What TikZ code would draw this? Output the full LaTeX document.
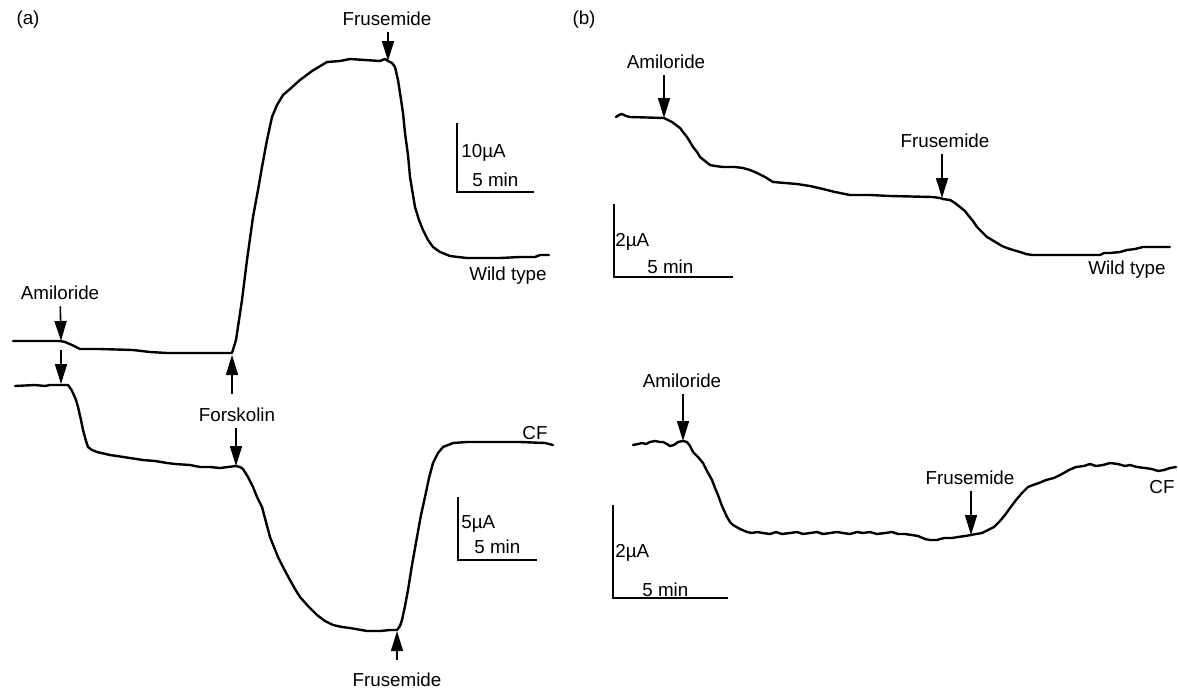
\documentclass[tikz,border=0pt]{standalone}
\usepackage{fontspec}
\setsansfont{Liberation Sans}
\usetikzlibrary{arrows.meta}

\begin{document}
\begin{tikzpicture}[x=0.5pt, y=-0.5pt, font=\sffamily\fontsize{9.4}{11}\selectfont,
		trace/.style={line width=1.2pt, line join=round, line cap=round},
		arr/.style={line width=0.8pt, -{Triangle[length=10pt, width=6pt]}},
		bar/.style={line width=0.65pt},
		lbl/.style={inner sep=3pt}]
	% 0. Khung ngoai (giu ti le hinh)
	\useasboundingbox (0,0) rectangle (1178,691);
	
	% 1. Nhan cua hai phan
	\node[lbl] (tagA) at (28,20) {(a)};
	\node[lbl] (tagB) at (584,20) {(b)};
	
	% 2. Phan (a): duong Wild type
	\draw[trace] plot coordinates {(13,341) (60,341) (65,342) (72,345) (80,349) (100,349) (133,350) (150,352) (167,353) (232,353) (236,340) (239,320) (242,300) (247,260) (253,217) (258,190) (262,167) (267,140) (272,117) (277,105) (283,95) (290,89) (300,80) (312,71) (327,62) (340,61) (350,59) (365,60) (380,61) (385,59) (388,61) (392,63) (395,67) (398,80) (400,93) (403,113) (405,133) (408,155) (410,177) (413,195) (415,207) (419,220) (423,230) (428,240) (433,247) (440,252) (450,256) (458,257) (467,258) (500,258) (520,257) (535,257) (540,255) (549,255)};
	\coordinate (wtAmiA) at (61,341);
	\coordinate (wtFskA) at (232,355);
	\coordinate (wtFruA) at (388,61);
	
	% 3. Phan (a): duong CF
	\draw[trace] plot coordinates {(15,386) (35,385) (45,386) (50,385) (62,385) (68,385) (71,389) (73,393) (76,400) (78,407) (81,420) (83,430) (86,441) (88,447) (92,450) (97,452) (110,455) (117,456) (130,458) (143,460) (155,461) (167,463) (175,464) (190,465) (200,467) (210,467) (220,468) (228,467) (236,466) (240,467) (243,469) (248,477) (253,487) (257,497) (262,507) (266,522) (270,537) (274,547) (278,557) (284,569) (290,580) (295,589) (300,597) (308,606) (317,615) (325,621) (333,625) (342,627) (350,628) (367,631) (380,631) (390,630) (397,630) (400,626) (402,620) (405,606) (408,590) (412,565) (417,537) (421,515) (425,497) (429,478) (433,463) (438,453) (443,447) (448,445) (453,443) (467,442) (480,442) (500,442) (520,442) (545,443) (553,445)};
	\coordinate (cfAmiA) at (61,384);
	\coordinate (cfAmiTail) at (61,350);
	\coordinate (cfFskA) at (236,466);
	\coordinate (cfFruA) at (397,631);
	
	% 4. Phan (a): nhan va mui ten
	\node[lbl] (amiA) at (60,293) {Amiloride};
	\draw[arr] (amiA) -- (wtAmiA);
	\draw[arr] (cfAmiTail) -- (cfAmiA);
	\node[lbl] (fskA) at (237,415) {Forskolin};
	\draw[arr, shorten <=4pt] (fskA.north -| wtFskA) -- (wtFskA);
	\draw[arr] (fskA.south -| cfFskA) -- (cfFskA);
	\node[lbl] (fruA1) at (387,19) {Frusemide};
	\draw[arr] (fruA1.south -| wtFruA) -- (wtFruA);
	\node[lbl] (fruA2) at (397,680) {Frusemide};
	\draw[arr, shorten <=3.5pt] (fruA2) -- (cfFruA);
	\node[lbl, anchor=east] (wtA) at (553,276) {Wild type};
	\node[lbl] (cfA) at (535,433) {CF};
	
	% 5. Phan (a): thanh ti le
	\draw[bar] (457,123) -- (457,192) -- (534,192);
	\node[lbl, anchor=west, inner sep=0pt] (barA1y) at (461,153) {10µA};
	\node[lbl, anchor=west, inner sep=0pt] (barA1x) at (472,180) {5 min};
	\draw[bar] (458,497) -- (458,560) -- (537,560);
	\node[lbl, anchor=west, inner sep=0pt] (barA2y) at (461,524) {5µA};
	\node[lbl, anchor=west, inner sep=0pt] (barA2x) at (474,547) {5 min};
	
	% 6. Phan (b): duong Wild type
	\draw[trace] plot coordinates {(616,117) (619,115) (622,114) (626,116) (630,117) (664,118) (668,120) (672,122) (676,125) (680,128) (683,132) (687,137) (690,142) (693,147) (697,152) (700,157) (705,161) (710,165) (715,166) (723,167) (735,167) (743,168) (750,170) (757,173) (765,177) (773,182) (785,183) (797,184) (810,186) (823,189) (835,192) (850,195) (870,195) (890,196) (933,197) (940,198) (943,199) (950,200) (955,203) (960,207) (965,211) (968,215) (973,221) (977,227) (982,232) (987,237) (992,240) (997,243) (1002,246) (1007,248) (1013,250) (1020,252) (1026,254) (1032,255) (1060,255) (1100,255) (1104,253) (1110,253) (1120,252) (1127,250) (1135,249) (1143,247) (1160,247) (1170,247)};
	\coordinate (wtAmiB) at (664,118);
	\coordinate (wtFruB) at (942,198);
	
	% 7. Phan (b): duong CF
	\draw[trace] plot coordinates {(633,445) (638,444) (642,443) (646,444) (650,442) (655,441) (660,442) (663,442) (667,444) (670,446) (674,445) (678,442) (683,441) (687,442) (690,446) (693,452) (698,457) (703,463) (707,471) (712,480) (715,488) (718,495) (722,506) (727,517) (730,522) (733,525) (740,529) (747,532) (752,533) (757,532) (763,533) (770,534) (776,532) (782,534) (790,533) (797,532) (803,534) (810,533) (817,532) (823,534) (830,533) (837,532) (843,533) (850,534) (857,532) (863,533) (870,532) (877,534) (885,533) (892,532) (898,534) (905,534) (912,535) (918,536) (925,539) (930,540) (937,540) (944,538) (952,538) (958,537) (965,536) (971,535) (976,534) (982,533) (988,530) (994,527) (1000,521) (1005,515) (1010,508) (1016,500) (1022,493) (1028,487) (1033,485) (1039,483) (1046,480) (1054,478) (1062,474) (1069,470) (1076,467) (1084,466) (1090,464) (1096,466) (1103,465) (1110,463) (1118,464) (1125,466) (1130,465) (1137,467) (1145,468) (1152,469) (1158,471) (1164,470) (1170,468) (1176,467)};
	\coordinate (cfAmiB) at (683,441);
	\coordinate (cfFruB) at (971,535);
	
	% 8. Phan (b): nhan va mui ten
	\node[lbl] (amiB1) at (666,62) {Amiloride};
	\draw[arr] (amiB1.south -| wtAmiB) -- (wtAmiB);
	\node[lbl] (fruB1) at (945,141) {Frusemide};
	\draw[arr] (fruB1.south -| wtFruB) -- (wtFruB);
	\node[lbl, anchor=east] (wtB) at (1172,270) {Wild type};
	\node[lbl] (amiB2) at (682,381) {Amiloride};
	\draw[arr] (amiB2.south -| cfAmiB) -- (cfAmiB);
	\node[lbl] (fruB2) at (970,478) {Frusemide};
	\draw[arr] (fruB2.south -| cfFruB) -- (cfFruB);
	\node[lbl] (cfB) at (1162,487) {CF};
	
	% 9. Phan (b): thanh ti le
	\draw[bar] (614,204) -- (614,277) -- (733,277);
	\node[lbl, anchor=west, inner sep=0pt] (barB1y) at (615,242) {2µA};
	\node[lbl, anchor=west, inner sep=0pt] (barB1x) at (647,267) {5 min};
	\draw[bar] (613,505) -- (613,598) -- (728,598);
	\node[lbl, anchor=west, inner sep=0pt] (barB2y) at (615,553) {2µA};
	\node[lbl, anchor=west, inner sep=0pt] (barB2x) at (642,590) {5 min};
\end{tikzpicture}
\end{document}
